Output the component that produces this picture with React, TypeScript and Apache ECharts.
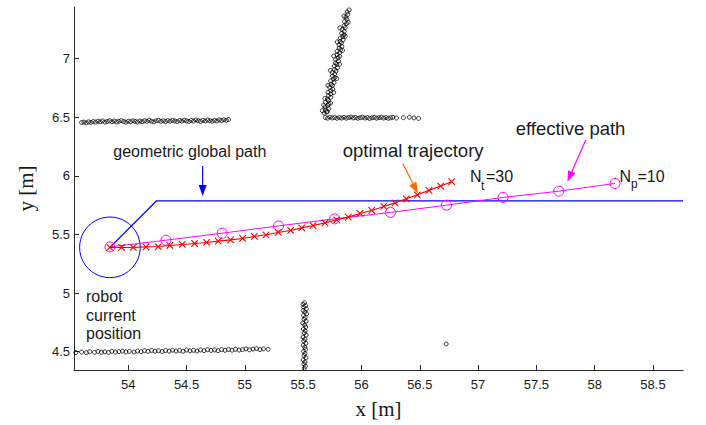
import React, { useEffect, useRef } from "react";
import * as echarts from "echarts";

// ---- axes ----
const xRange = [53.535, 58.757];
const yRange = [4.344, 7.44];
const xTicks = [54, 54.5, 55, 55.5, 56, 56.5, 57, 57.5, 58, 58.5];
const yTicks = [4.5, 5, 5.5, 6, 6.5, 7];

// ---- robot ----
const robotCircle = [[53.843, 5.39, 0.26]];

// ---- geometric global path ----
const globalPath = [
  [53.843, 5.39],
  [54.243, 5.787],
  [58.757, 5.787],
];

// ---- effective path (Np = 10) ----
const effectivePath = [
  [53.843, 5.394],
  [54.323, 5.451],
  [54.806, 5.511],
  [55.289, 5.573],
  [55.769, 5.633],
  [56.249, 5.688],
  [56.729, 5.75],
  [57.214, 5.816],
  [57.692, 5.869],
  [58.174, 5.935],
];

// ---- optimal trajectory (Nt = 30) ----
const optimalTrajectory = [
  [53.843, 5.389], [53.943, 5.389], [54.043, 5.389], [54.152, 5.394], [54.257, 5.397],
  [54.357, 5.406], [54.463, 5.415], [54.569, 5.423], [54.672, 5.432], [54.772, 5.443],
  [54.878, 5.454], [54.981, 5.466], [55.081, 5.483], [55.181, 5.497], [55.287, 5.517],
  [55.393, 5.534], [55.488, 5.556], [55.585, 5.576], [55.688, 5.599], [55.788, 5.625],
  [55.887, 5.648], [55.988, 5.679], [56.088, 5.705], [56.191, 5.739], [56.288, 5.77],
  [56.385, 5.804], [56.479, 5.838], [56.579, 5.876], [56.679, 5.913], [56.773, 5.95],
];

// ---- laser scan points ----
const scanWallUpperLeft = [
  [53.60, 6.455], [53.62, 6.458], [53.64, 6.452], [53.66, 6.46], [53.68, 6.456], [53.70, 6.463],
  [53.72, 6.458], [53.74, 6.466], [53.76, 6.461], [53.78, 6.468], [53.80, 6.459], [53.82, 6.464],
  [53.84, 6.47], [53.86, 6.462], [53.88, 6.467], [53.90, 6.46], [53.92, 6.465], [53.94, 6.471],
  [53.96, 6.463], [53.98, 6.458], [54.00, 6.466], [54.02, 6.461], [54.04, 6.469], [54.06, 6.464],
  [54.08, 6.459], [54.10, 6.467], [54.12, 6.462], [54.14, 6.47], [54.16, 6.465], [54.18, 6.474],
  [54.20, 6.466], [54.22, 6.461], [54.24, 6.469], [54.26, 6.473], [54.28, 6.465], [54.30, 6.47],
  [54.32, 6.463], [54.34, 6.471], [54.36, 6.466], [54.38, 6.474], [54.40, 6.468], [54.42, 6.463],
  [54.44, 6.472], [54.46, 6.467], [54.48, 6.475], [54.50, 6.469], [54.52, 6.464], [54.54, 6.472],
  [54.56, 6.467], [54.58, 6.476], [54.60, 6.47], [54.62, 6.465], [54.64, 6.473], [54.66, 6.468],
  [54.68, 6.476], [54.70, 6.47], [54.72, 6.466], [54.74, 6.474], [54.76, 6.469], [54.78, 6.477],
  [54.80, 6.471], [54.82, 6.478], [54.84, 6.474], [54.86, 6.48],
];

const scanWallSlanted = [
  [55.679, 6.535], [55.708, 6.548], [55.693, 6.561], [55.72, 6.574], [55.687, 6.587], [55.711, 6.6],
  [55.72, 6.614], [55.692, 6.628], [55.717, 6.642], [55.708, 6.656], [55.737, 6.67], [55.716, 6.684],
  [55.737, 6.698], [55.712, 6.712], [55.737, 6.726], [55.754, 6.74], [55.727, 6.754], [55.75, 6.768],
  [55.741, 6.782], [55.765, 6.796], [55.736, 6.81], [55.759, 6.824], [55.772, 6.838], [55.751, 6.852],
  [55.77, 6.866], [55.749, 6.88], [55.782, 6.894], [55.769, 6.908], [55.794, 6.922], [55.767, 6.936],
  [55.788, 6.95], [55.777, 6.964], [55.803, 6.978], [55.778, 6.992], [55.799, 7.006], [55.814, 7.02],
  [55.791, 7.034], [55.812, 7.048], [55.791, 7.062], [55.822, 7.076], [55.809, 7.09], [55.832, 7.104],
  [55.807, 7.118], [55.828, 7.132], [55.818, 7.146], [55.843, 7.16], [55.818, 7.174], [55.839, 7.188],
  [55.85, 7.202], [55.831, 7.216], [55.852, 7.232], [55.836, 7.248], [55.861, 7.264], [55.851, 7.28],
  [55.871, 7.298], [55.855, 7.316], [55.875, 7.334], [55.867, 7.354], [55.882, 7.376], [55.877, 7.398],
  [55.915, 7.444],
  [55.70, 6.545], [55.735, 6.62], [55.685, 6.66], [55.762, 6.71], [55.712, 6.772], [55.788, 6.83],
  [55.733, 6.9], [55.812, 6.952], [55.762, 7.022], [55.838, 7.07], [55.792, 7.142], [55.862, 7.19],
  [55.815, 7.262], [55.886, 7.31], [55.85, 7.362], [55.895, 7.415], [55.664, 6.556], [55.676, 6.602],
];

const scanWallShelf = [
  [55.69, 6.497], [55.71, 6.492], [55.73, 6.5], [55.75, 6.494], [55.77, 6.498], [55.79, 6.491],
  [55.81, 6.496], [55.83, 6.493], [55.85, 6.499], [55.87, 6.492], [55.89, 6.497], [55.91, 6.501],
  [55.93, 6.494], [55.95, 6.498], [55.97, 6.491], [55.99, 6.496], [56.01, 6.5], [56.03, 6.493],
  [56.05, 6.497], [56.07, 6.49], [56.09, 6.495], [56.11, 6.499], [56.13, 6.492], [56.15, 6.496],
  [56.17, 6.5], [56.19, 6.493], [56.21, 6.497], [56.23, 6.491], [56.25, 6.495], [56.27, 6.499],
  [56.30, 6.493], [56.36, 6.496], [56.41, 6.5], [56.45, 6.494], [56.49, 6.49],
];

const scanWallLower = [
  [53.55, 4.493], [53.60, 4.497], [53.64, 4.492], [53.67, 4.5], [53.71, 4.495], [53.74, 4.502],
  [53.77, 4.496], [53.80, 4.499], [53.83, 4.494], [53.86, 4.503], [53.89, 4.497], [53.92, 4.501],
  [53.95, 4.505], [53.98, 4.498], [54.01, 4.503], [54.05, 4.497], [54.08, 4.506], [54.11, 4.5],
  [54.14, 4.509], [54.17, 4.503], [54.20, 4.511], [54.23, 4.504], [54.26, 4.508], [54.29, 4.502],
  [54.32, 4.51], [54.35, 4.505], [54.38, 4.513], [54.41, 4.506], [54.44, 4.511], [54.47, 4.504],
  [54.50, 4.514], [54.53, 4.508], [54.56, 4.512], [54.59, 4.506], [54.62, 4.515], [54.65, 4.509],
  [54.68, 4.517], [54.71, 4.511], [54.74, 4.515], [54.77, 4.509], [54.80, 4.518], [54.83, 4.512],
  [54.86, 4.519], [54.89, 4.513], [54.92, 4.521], [54.95, 4.514], [54.98, 4.518], [55.01, 4.524],
  [55.04, 4.516], [55.07, 4.522], [55.10, 4.526], [55.13, 4.518], [55.16, 4.524], [55.20, 4.521],
];

const scanPillar = [
  [55.512, 4.918], [55.498, 4.905], [55.52, 4.893], [55.505, 4.88], [55.527, 4.866], [55.5, 4.852],
  [55.515, 4.838], [55.53, 4.823], [55.503, 4.808], [55.518, 4.792], [55.508, 4.776], [55.525, 4.76],
  [55.497, 4.744], [55.514, 4.728], [55.522, 4.71], [55.502, 4.694], [55.517, 4.678], [55.509, 4.66],
  [55.526, 4.642], [55.499, 4.625], [55.516, 4.607], [55.506, 4.59], [55.523, 4.572], [55.501, 4.555],
  [55.514, 4.538], [55.52, 4.52], [55.503, 4.502], [55.516, 4.484], [55.508, 4.466], [55.524, 4.448],
  [55.5, 4.43], [55.515, 4.412], [55.506, 4.394], [55.52, 4.376], [55.51, 4.358],
];

const scanStray = [[56.726, 4.566]];

// ---- annotation arrows (data coordinates: from -> to) ----
const arrowGlobal = [[54.638, 6.083], [54.638, 5.827]];
const arrowOptimal = [[56.354, 6.106], [56.483, 5.85]];
const arrowEffective = [[57.923, 6.305], [57.766, 5.949]];

const SANS = "'Liberation Sans', Arial, Helvetica, sans-serif";
const SERIF = "'Liberation Serif', 'Times New Roman', serif";
const TEXT = "#1a1a1a";
const AXIS = "#2b2b2b";

export default function App() {
  const ref = useRef<HTMLDivElement>(null);

  useEffect(() => {
    if (!ref.current) return;
    const chart = echarts.init(ref.current, null, { renderer: "svg" });

    const scanSeries = (data: number[][]) => ({
      type: "scatter",
      data,
      symbol: "circle",
      symbolSize: 4,
      itemStyle: { color: "rgba(0,0,0,0)", borderColor: "#000", borderWidth: 1 },
      silent: true,
      z: 2,
    });

    chart.setOption({
      animation: false,
      backgroundColor: "#fff",
      grid: { left: 74, top: 7, right: 23, bottom: 55, containLabel: false },
      xAxis: {
        type: "value",
        min: xRange[0],
        max: xRange[1],
        name: "x [m]",
        nameLocation: "middle",
        nameGap: 28,
        nameTextStyle: { fontFamily: SERIF, fontSize: 21, color: TEXT },
        axisLine: { show: true, onZero: false, lineStyle: { color: AXIS, width: 1 } },
        axisTick: { show: true, inside: true, length: 5, customValues: xTicks, lineStyle: { color: AXIS } },
        axisLabel: { customValues: xTicks, margin: 8, fontFamily: SANS, fontSize: 13, color: TEXT },
        splitLine: { show: false },
      },
      yAxis: {
        type: "value",
        min: yRange[0],
        max: yRange[1],
        name: "y [m]",
        nameLocation: "middle",
        nameGap: 38,
        nameRotate: 90,
        nameTextStyle: { fontFamily: SERIF, fontSize: 21, color: TEXT },
        axisLine: { show: true, onZero: false, lineStyle: { color: AXIS, width: 1 } },
        axisTick: { show: true, inside: true, length: 5, customValues: yTicks, lineStyle: { color: AXIS } },
        axisLabel: { customValues: yTicks, margin: 4, fontFamily: SANS, fontSize: 13, color: TEXT },
        splitLine: { show: false },
      },
      series: [
        scanSeries(scanWallUpperLeft),
        scanSeries(scanWallSlanted),
        scanSeries(scanWallShelf),
        scanSeries(scanWallLower),
        scanSeries(scanPillar),
        scanSeries(scanStray),
        {
          type: "custom",
          data: robotCircle,
          clip: false,
          silent: true,
          z: 3,
          renderItem: (_p: any, api: any) => {
            const c = api.coord([api.value(0), api.value(1)]);
            const r = api.size([api.value(2), 0])[0];
            return {
              type: "circle",
              shape: { cx: c[0], cy: c[1], r },
              style: { fill: "none", stroke: "#0000ff", lineWidth: 1 },
            };
          },
        },
        {
          type: "line",
          data: globalPath,
          showSymbol: false,
          symbol: "none",
          lineStyle: { color: "#0000ff", width: 1.3 },
          silent: true,
          z: 3,
        },
        {
          type: "line",
          data: effectivePath,
          symbol: "circle",
          symbolSize: 10,
          itemStyle: { color: "rgba(0,0,0,0)", borderColor: "#ff00ff", borderWidth: 1 },
          lineStyle: { color: "#ff00ff", width: 1 },
          silent: true,
          z: 4,
        },
        {
          type: "line",
          data: optimalTrajectory,
          symbol: "path://M0,0L10,10M0,10L10,0",
          symbolSize: 6.5,
          itemStyle: { color: "#ff0000", borderColor: "#ff0000", borderWidth: 1.1 },
          lineStyle: { color: "#ff0000", width: 1.1 },
          silent: true,
          z: 5,
        },
      ],
    });

    const toPx = (p: number[]) => chart.convertToPixel({ gridIndex: 0 }, p) as number[];
    const arrow = (pts: number[][], color: string) => {
      const a = toPx(pts[0]);
      const b = toPx(pts[1]);
      const dx = b[0] - a[0];
      const dy = b[1] - a[1];
      const len = Math.sqrt(dx * dx + dy * dy);
      const ux = dx / len;
      const uy = dy / len;
      const L = 11;
      const W = 4;
      const bx = b[0] - ux * L;
      const by = b[1] - uy * L;
      return [
        { type: "line", shape: { x1: a[0], y1: a[1], x2: bx, y2: by }, style: { stroke: color, lineWidth: 1.2 }, z: 10 },
        {
          type: "polygon",
          shape: { points: [[b[0], b[1]], [bx - uy * W, by + ux * W], [bx + uy * W, by - ux * W]] },
          style: { fill: color },
          z: 10,
        },
      ];
    };
    const txt = (text: string, x: number, y: number, size: number) => ({
      type: "text",
      x,
      y,
      z: 10,
      style: { text, fontFamily: SANS, fontSize: size, fill: TEXT, align: "left", verticalAlign: "middle" },
    });

    chart.setOption({
      graphic: [
        ...arrow(arrowGlobal, "#0000ff"),
        ...arrow(arrowOptimal, "#ff6600"),
        ...arrow(arrowEffective, "#ff00ff"),
        txt("geometric global path", 113.3, 151.4, 16),
        txt("optimal trajectory", 342.7, 150.2, 18.5),
        txt("effective path", 515.7, 128.5, 18.5),
        txt("N", 470, 176.1, 16),
        txt("t", 481, 185.8, 12),
        txt("=30", 486, 176.1, 16),
        txt("N", 619.5, 176.1, 16),
        txt("p", 631, 183.8, 12),
        txt("=10", 637.5, 176.1, 16),
        txt("robot", 86, 296.1, 16),
        txt("current", 86, 315.1, 16),
        txt("position", 86, 333.7, 16),
      ],
    });

    return () => chart.dispose();
  }, []);

  return (
    <div
      ref={ref}
      style={{ position: "fixed", left: 0, top: 0, width: 706, height: 425, background: "#fff" }}
    />
  );
}
